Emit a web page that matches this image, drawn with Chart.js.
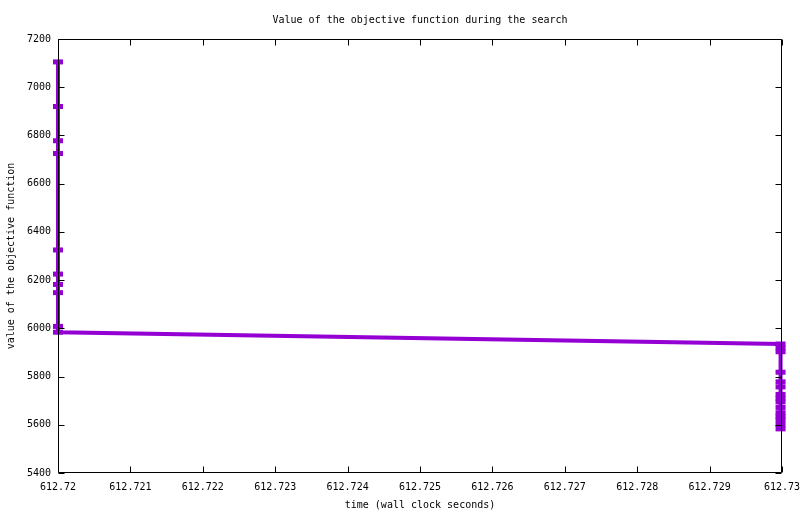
<!DOCTYPE html>
<html>
<head>
<meta charset="utf-8">
<title>Value of the objective function during the search</title>
<script src="https://cdn.jsdelivr.net/npm/chart.js@4.4.1/dist/chart.umd.min.js"></script>
<style>
    html, body { margin: 0; padding: 0; background: #fff; }
    #wrap { width: 800px; height: 514px; }
</style>
</head>
<body>
<div id="wrap"><canvas id="chart" width="800" height="514"></canvas></div>
<script>
// Search trace: time (s) vs objective value
const timeValues = [
    612.72, 612.72, 612.72, 612.72, 612.72, 612.72, 612.72, 612.72, 612.72, 612.72,
    612.72998, 612.72998, 612.72998, 612.72998, 612.72998, 612.72998, 612.72998, 612.72998,
    612.72998, 612.72998, 612.72998, 612.72998, 612.72998, 612.72998, 612.72998
];
const objectiveValues = [
    7105, 6920, 6778, 6725, 6325, 6225, 6182, 6148, 6008, 5984,
    5935, 5919, 5903, 5818, 5778, 5757, 5726, 5710, 5695, 5672,
    5650, 5635, 5621, 5601, 5583
];
const xTicks = [612.72, 612.721, 612.722, 612.723, 612.724, 612.725, 612.726, 612.727, 612.728, 612.729, 612.73];
const yTicks = [5400, 5600, 5800, 6000, 6200, 6400, 6600, 6800, 7000, 7200];

const purple = '#9400d3';
const monoFont = { family: '"DejaVu Sans Mono", "Liberation Mono", monospace', size: 10, weight: 'normal' };

// gnuplot-style frame with inward ticks on all four sides
const framePlugin = {
    id: 'frame',
    afterDatasetsDraw(chart) {
        const { ctx, chartArea: a, scales } = chart;
        const l = Math.round(a.left) + 0.5;
        const r = Math.round(a.right) - 0.5;
        const t = Math.round(a.top) + 0.5;
        const b = Math.round(a.bottom) - 0.5;
        const len = 6;
        ctx.save();
        ctx.strokeStyle = '#000';
        ctx.lineWidth = 1;
        ctx.beginPath();
        ctx.rect(l, t, r - l, b - t);
        scales.x.ticks.forEach(tk => {
            const px = Math.round(scales.x.getPixelForValue(tk.value)) + 0.5;
            ctx.moveTo(px, b); ctx.lineTo(px, b - len);
            ctx.moveTo(px, t); ctx.lineTo(px, t + len);
        });
        scales.y.ticks.forEach(tk => {
            const py = Math.round(scales.y.getPixelForValue(tk.value)) + 0.5;
            ctx.moveTo(l, py); ctx.lineTo(l + len, py);
            ctx.moveTo(r, py); ctx.lineTo(r - len, py);
        });
        ctx.stroke();
        ctx.restore();
    }
};

Chart.defaults.color = '#000';
Chart.defaults.font = monoFont;

new Chart(document.getElementById('chart'), {
    type: 'scatter',
    data: {
        datasets: [{
            data: timeValues.map((x, i) => ({ x: x, y: objectiveValues[i] })),
            showLine: true,
            borderColor: purple,
            backgroundColor: purple,
            borderWidth: 4,
            borderCapStyle: 'square',
            pointStyle: 'line',
            pointRadius: 5,
            pointBorderWidth: 5,
            pointBorderColor: purple,
            pointHoverRadius: 5,
            clip: false
        }]
    },
    options: {
        responsive: false,
        animation: false,
        devicePixelRatio: 1,
        layout: { padding: { left: 0, right: 18, top: 0, bottom: 0 } },
        plugins: {
            legend: { display: false },
            tooltip: { enabled: false },
            title: {
                display: true,
                text: 'Value of the objective function during the search',
                font: monoFont,
                color: '#000',
                fullSize: false,
                padding: { top: 14, bottom: 13 }
            }
        },
        scales: {
            x: {
                type: 'linear',
                min: 612.72,
                max: 612.73,
                afterBuildTicks: s => { s.ticks = xTicks.map(v => ({ value: v })); },
                afterFit: s => { s.height = 41; s.paddingLeft = 0; s.paddingRight = 0; },
                ticks: {
                    autoSkip: false,
                    maxRotation: 0,
                    padding: 8,
                    font: monoFont,
                    callback: v => String(parseFloat(v.toFixed(3)))
                },
                grid: { display: false, drawTicks: false },
                border: { display: false },
                title: {
                    display: true,
                    text: 'time (wall clock seconds)',
                    font: monoFont,
                    padding: { top: 0, bottom: 3 }
                }
            },
            y: {
                type: 'linear',
                min: 5400,
                max: 7200,
                afterBuildTicks: s => { s.ticks = yTicks.map(v => ({ value: v })); },
                afterFit: s => { s.width = 58; s.paddingTop = 0; s.paddingBottom = 0; },
                ticks: {
                    autoSkip: false,
                    padding: 7,
                    font: monoFont,
                    callback: v => String(v)
                },
                grid: { display: false, drawTicks: false },
                border: { display: false },
                title: {
                    display: true,
                    text: 'value of the objective function',
                    font: monoFont,
                    padding: { top: 5, bottom: 0 }
                }
            }
        }
    },
    plugins: [framePlugin]
});
</script>
</body>
</html>
